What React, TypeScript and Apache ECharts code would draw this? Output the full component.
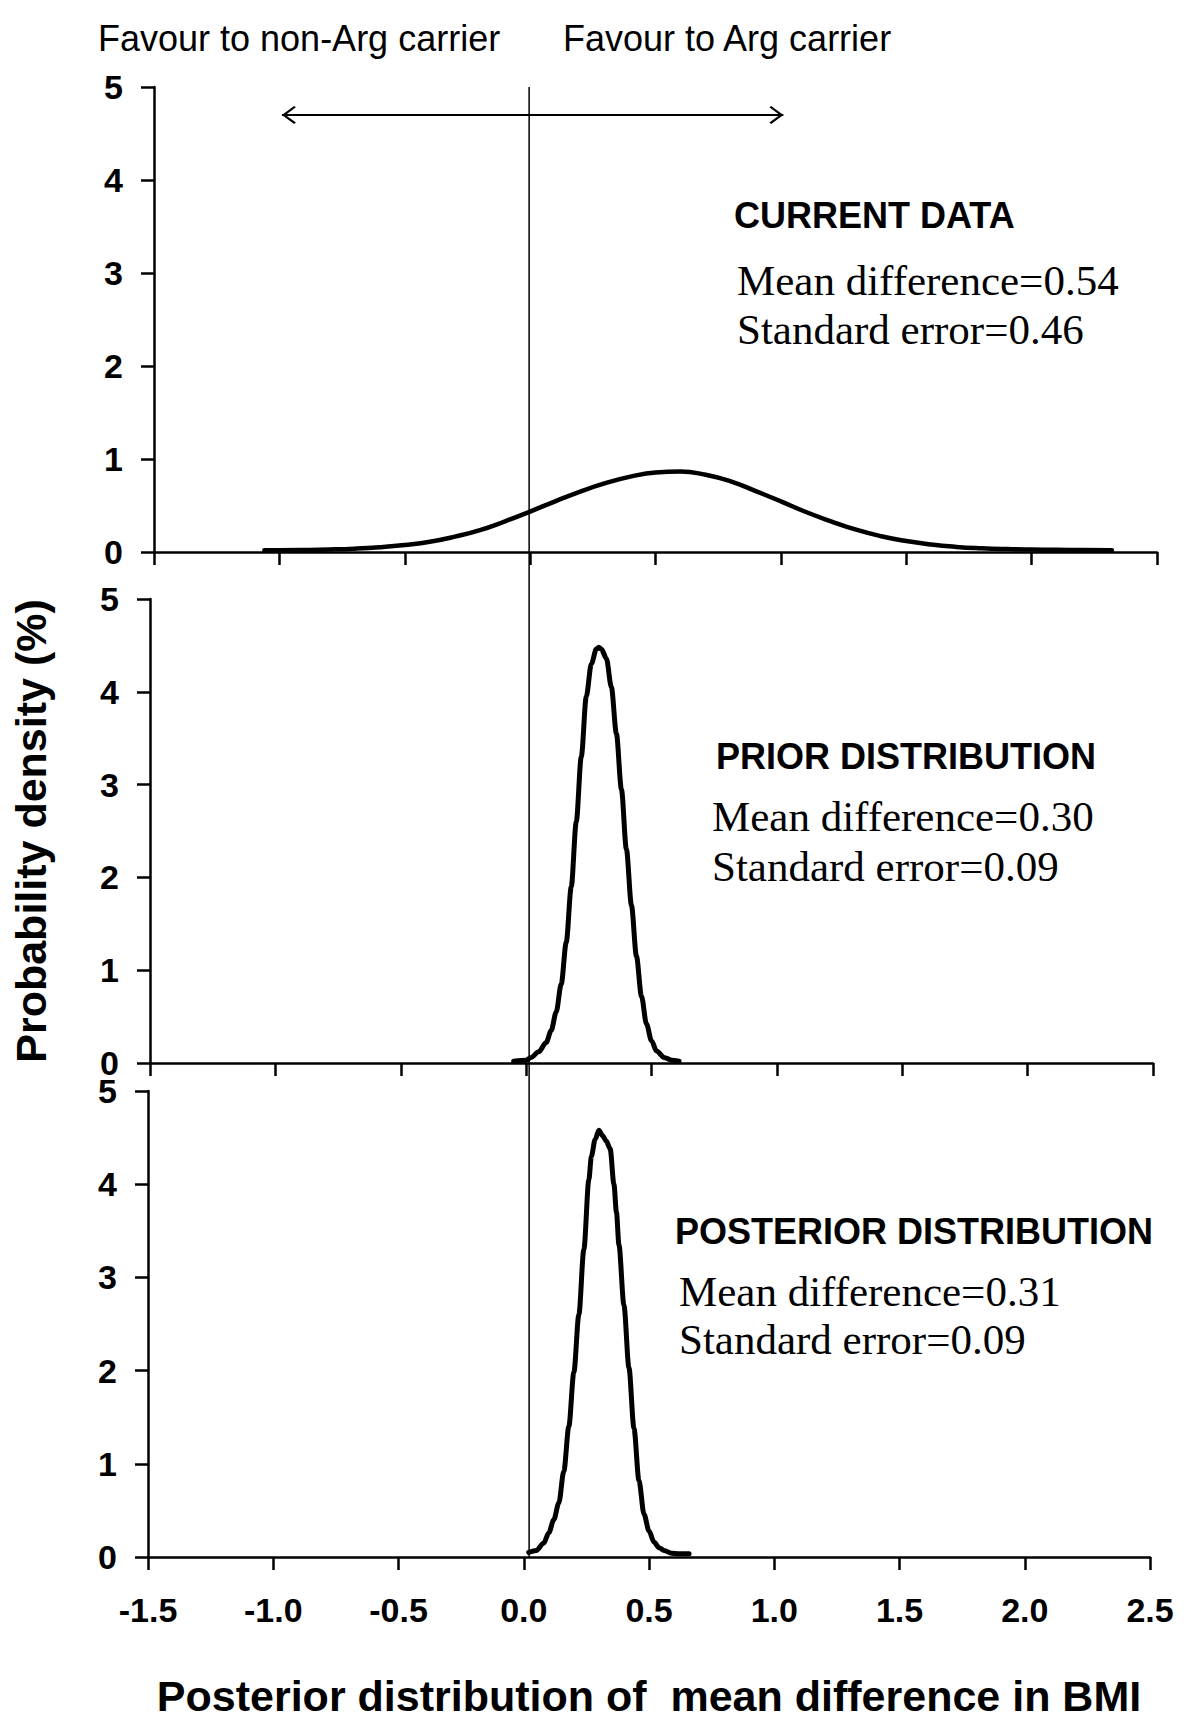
import React, { useEffect, useRef } from "react";
import * as echarts from "echarts";

// ---- axis ranges ----
const xMin = -1.5;
const xMax = 2.5;
const xStep = 0.5;
const yMin = 0;
const yMax = 5;
const yStep = 1;

// ---- CURRENT DATA curve ----
const currentX = [
  -1.06, -1.0, -0.9, -0.8, -0.7, -0.6, -0.5, -0.4, -0.3, -0.2, -0.1, 0.0, 0.1, 0.2, 0.3, 0.4, 0.5, 0.6,
  0.7, 0.8, 0.9, 1.0, 1.1, 1.2, 1.3, 1.4, 1.5, 1.6, 1.7, 1.8, 1.9, 2.0, 2.1, 2.2, 2.32,
];
const currentY = [
  0.02, 0.02, 0.022, 0.027, 0.036, 0.052, 0.076, 0.11, 0.165, 0.235, 0.33, 0.435, 0.545, 0.65, 0.74, 0.81,
  0.855, 0.865, 0.83, 0.76, 0.655, 0.545, 0.43, 0.33, 0.24, 0.17, 0.118, 0.08, 0.055, 0.04, 0.031, 0.026,
  0.023, 0.021, 0.02,
];

// ---- PRIOR DISTRIBUTION curve ----
const priorX = [
  -0.05, 0.0, 0.02, 0.05, 0.08, 0.1, 0.12, 0.14, 0.16, 0.18, 0.2, 0.22, 0.24, 0.26, 0.28, 0.29, 0.3, 0.32,
  0.34, 0.36, 0.38, 0.4, 0.42, 0.44, 0.46, 0.48, 0.5, 0.52, 0.55, 0.58, 0.61,
];
const priorY = [
  0.02, 0.03, 0.06, 0.12, 0.22, 0.35, 0.55, 0.85, 1.3, 1.9, 2.6, 3.3, 3.95, 4.3, 4.46, 4.48, 4.46, 4.36,
  4.05, 3.55, 2.95, 2.3, 1.7, 1.15, 0.72, 0.42, 0.24, 0.13, 0.06, 0.03, 0.02,
];

// ---- POSTERIOR DISTRIBUTION curve ----
const posteriorX = [
  0.02, 0.05, 0.08, 0.1, 0.12, 0.14, 0.16, 0.18, 0.2, 0.22, 0.24, 0.26, 0.27, 0.285, 0.3, 0.315, 0.33,
  0.345, 0.36, 0.37, 0.38, 0.4, 0.42, 0.44, 0.46, 0.48, 0.5, 0.52, 0.54, 0.56, 0.59, 0.62, 0.66,
];
const posteriorY = [
  0.05, 0.07, 0.15, 0.26, 0.4, 0.58, 0.92, 1.4, 1.98, 2.6, 3.3, 4.05, 4.3, 4.48, 4.58, 4.52, 4.46, 4.38,
  4.0, 3.7, 3.35, 2.7, 2.03, 1.38, 0.82, 0.46, 0.28, 0.16, 0.1, 0.07, 0.04, 0.035, 0.035,
];

// ---- annotations ----
const arrowFrom = -0.99;
const arrowTo = 1.01;
const arrowY = 4.7;
const referenceX = 0;

const favourLabels = ["Favour to non-Arg carrier", "Favour to Arg carrier"];
const panelTitles = ["CURRENT DATA", "PRIOR DISTRIBUTION", "POSTERIOR DISTRIBUTION"];
const meanLines = ["Mean difference=0.54", "Mean difference=0.30", "Mean difference=0.31"];
const seLines = ["Standard error=0.46", "Standard error=0.09", "Standard error=0.09"];
const xAxisTitle = "Posterior distribution of  mean difference in BMI";
const yAxisTitle = "Probability density (%)";

const SANS = '"Liberation Sans", Arial, Helvetica, sans-serif';
const SERIF = '"Liberation Serif", "Times New Roman", serif';

const chevron =
  "path://M0,20 L10,10 L20,20 L18.5,21.5 L10,13 L1.5,21.5 Z M10,-1.5 L10.01,-1.5 Z";

const zip = (xs: number[], ys: number[]) => xs.map((x, i) => [x, ys[i]]);

export default function App() {
  const ref = useRef<HTMLDivElement>(null);

  useEffect(() => {
    document.body.style.margin = "0";
    if (!ref.current) return;
    const chart = echarts.init(ref.current, undefined, { renderer: "svg" });

    const grids = [
      { left: 154, top: 87, width: 1003, height: 465 },
      { left: 150, top: 599, width: 1003, height: 464 },
      { left: 148, top: 1091, width: 1002, height: 466 },
    ];

    const axisLine = { show: true, onZero: false, lineStyle: { color: "#000", width: 2.5 } };
    const axisTick = { show: true, inside: false, length: 13, lineStyle: { color: "#000", width: 2.5 } };

    const xAxes = grids.map((_, i) => ({
      type: "value",
      gridIndex: i,
      min: xMin,
      max: xMax,
      interval: xStep,
      axisLine: { ...axisLine, onZero: true },
      axisTick,
      splitLine: { show: false },
      axisLabel:
        i === 2
          ? {
              show: true,
              color: "#000",
              fontFamily: SANS,
              fontWeight: "bold",
              fontSize: 34,
              lineHeight: 26,
              margin: 40,
              formatter: (v: number) => v.toFixed(1),
            }
          : { show: false },
      ...(i === 2
        ? {
            name: xAxisTitle,
            nameLocation: "middle",
            nameGap: 117,
            nameTextStyle: { color: "#000", fontFamily: SANS, fontWeight: "bold", fontSize: 43 },
          }
        : {}),
    }));

    const yAxes = grids.map((_, i) => ({
      type: "value",
      gridIndex: i,
      min: yMin,
      max: yMax,
      interval: yStep,
      axisLine,
      axisTick,
      splitLine: { show: false },
      axisLabel: {
        show: true,
        color: "#000",
        fontFamily: SANS,
        fontWeight: "bold",
        fontSize: 34,
        lineHeight: 24,
        margin: 31,
      },
      ...(i === 1
        ? {
            name: yAxisTitle,
            nameLocation: "middle",
            nameGap: 98,
            nameRotate: 90,
            nameTextStyle: { color: "#000", fontFamily: SANS, fontWeight: "bold", fontSize: 43 },
          }
        : {}),
    }));

    const curveStyle = (w: number) => ({ color: "#000", width: w, cap: "round", join: "round" });

    const series: any[] = [
      {
        type: "line",
        xAxisIndex: 0,
        yAxisIndex: 0,
        data: zip(currentX, currentY),
        showSymbol: false,
        smooth: 0.5,
        lineStyle: curveStyle(4.5),
        z: 3,
        markLine: {
          silent: true,
          animation: false,
          label: { show: false },
          lineStyle: { color: "#000", width: 2, type: "solid" },
          data: [
            [
              { coord: [arrowFrom, arrowY], symbol: chevron, symbolSize: [18, 28] },
              { coord: [arrowTo, arrowY], symbol: chevron, symbolSize: [18, 28] },
            ],
          ],
        },
      },
      {
        type: "line",
        xAxisIndex: 1,
        yAxisIndex: 1,
        data: zip(priorX, priorY),
        showSymbol: false,
        smooth: 0.3,
        smoothMonotone: "x",
        lineStyle: curveStyle(5),
        z: 3,
      },
      {
        type: "line",
        xAxisIndex: 2,
        yAxisIndex: 2,
        data: zip(posteriorX, posteriorY),
        showSymbol: false,
        smooth: 0.3,
        smoothMonotone: "x",
        lineStyle: curveStyle(5),
        z: 3,
      },
    ];

    chart.setOption({
      animation: false,
      backgroundColor: "#fff",
      grid: grids.map((g) => ({ ...g, containLabel: false, outerBoundsMode: "none" })),
      xAxis: xAxes,
      yAxis: yAxes,
      series,
    });

    const top = chart.convertToPixel({ xAxisIndex: 0, yAxisIndex: 0 }, [referenceX, yMax]) as number[];
    const bottom = chart.convertToPixel({ xAxisIndex: 2, yAxisIndex: 2 }, [referenceX, yMin]) as number[];

    const text = (
      str: string,
      x: number,
      y: number,
      size: number,
      family: string,
      weight: string
    ) => ({
      type: "text",
      x,
      y,
      z: 5,
      style: {
        text: str,
        fill: "#000",
        fontSize: size,
        fontFamily: family,
        fontWeight: weight,
        textAlign: "left",
        textVerticalAlign: "middle",
        align: "left",
        verticalAlign: "middle",
      },
    });

    const titlePos = [
      [734, 215],
      [716, 756],
      [675, 1231],
    ];
    const statPos = [
      [737, 280, 329],
      [712, 816, 866],
      [679, 1291, 1339],
    ];

    const graphics: any[] = [
      {
        type: "line",
        z: 1,
        shape: { x1: top[0] - 1, y1: top[1], x2: top[0] - 1, y2: bottom[1] },
        style: { stroke: "#000", lineWidth: 1.5 },
      },
      text(favourLabels[0], 98, 38, 36, SANS, "normal"),
      text(favourLabels[1], 563, 38, 36, SANS, "normal"),
    ];
    for (let i = 0; i < 3; i++) {
      graphics.push(text(panelTitles[i], titlePos[i][0], titlePos[i][1], 36, SANS, "bold"));
      graphics.push(text(meanLines[i], statPos[i][0], statPos[i][1], 43, SERIF, "normal"));
      graphics.push(text(seLines[i], statPos[i][0], statPos[i][2], 43, SERIF, "normal"));
    }

    chart.setOption({ graphic: graphics });

    return () => {
      chart.dispose();
    };
  }, []);

  return <div ref={ref} style={{ width: 1200, height: 1719 }} />;
}
